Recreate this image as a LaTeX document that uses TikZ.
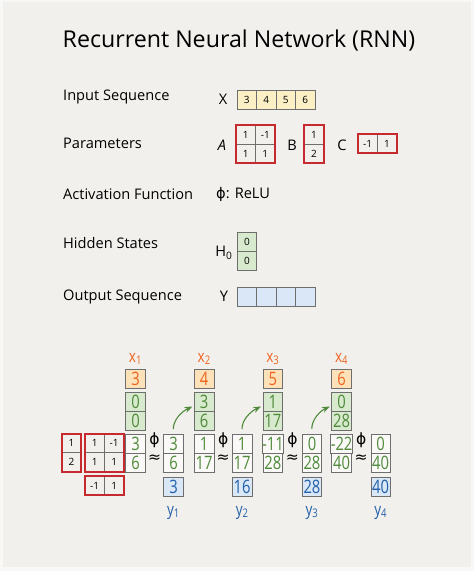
\documentclass[tikz,border=0pt]{standalone}
\usepackage{fontspec}
\setmainfont{Open Sans}
\newfontfamily\handfont[FakeStretch=0.8]{Open Sans}
\newfontfamily\symfont{DejaVu Sans}
\usetikzlibrary{arrows.meta,calc,fit,positioning}

\definecolor{paper}{HTML}{F2F0EC}
\definecolor{rim}{HTML}{F8F8F7}
\definecolor{gridgray}{HTML}{6E6E6E}
\definecolor{mred}{HTML}{C62A2F}
\definecolor{xfill}{HTML}{FBEFC6}
\definecolor{inpfill}{HTML}{FDE2B9}
\definecolor{inptext}{HTML}{EE6420}
\definecolor{hfill}{HTML}{D8EACD}
\definecolor{htext}{HTML}{4E8A3A}
\definecolor{yfill}{HTML}{D9E7F6}
\definecolor{ytext}{HTML}{2260AA}

\begin{document}
\begin{tikzpicture}[
  x=1pt,
  y=-1pt,
  font=\fontsize{14.6}{16}\selectfont,
  >=Stealth,
  cell/.style={draw=gridgray, line width=0.8pt, minimum width=19.5pt, minimum height=19pt,
    inner sep=0pt, outer sep=0pt, font=\fontsize{10}{12}\selectfont},
  xcell/.style={cell, fill=xfill},
  ycell/.style={cell, fill=yfill},
  hcell/.style={cell, fill=hfill},
  bigcell/.style={cell, font=\handfont\fontsize{18.5}{18}\selectfont},
  incell/.style={bigcell, fill=inpfill, text=inptext},
  stcell/.style={bigcell, fill=hfill, text=htext},
  zcell/.style={bigcell, fill=white!60!paper, text=htext},
  outcell/.style={bigcell, fill=yfill, text=ytext},
  redframe/.style={draw=mred, line width=1.7pt, inner sep=0pt},
  rowlabel/.style={anchor=west, inner sep=0pt},
  flow/.style={->, draw=htext, line width=1.1pt, shorten <=5pt}
]
  % paper
  \fill[rim] (0,0) rectangle (474,571);
  \fill[paper] (3,2) rectangle (471,567);

  \node (title) at (239,41) {\fontsize{23.2}{26}\selectfont Recurrent Neural Network (RNN)};

  \node[rowlabel] (lin) at (63,97) {Input Sequence};
  \node[rowlabel] (lpar) at (63,143) {Parameters};
  \node[rowlabel] (lact) at (63,194) {Activation Function};
  \node[rowlabel] (lhid) at (63,243) {Hidden States};
  \node[rowlabel] (lout) at (63,297) {Output Sequence};

  % input sequence X
  \node (X) at (223,99) {X};
  \node[xcell] (X1) at (246.8,100) {3};
  \node[xcell, right=0pt of X1] (X2) {4};
  \node[xcell, right=0pt of X2] (X3) {5};
  \node[xcell, right=0pt of X3] (X4) {6};

  % parameters A, B, C
  \node (A) at (222,145) {\itshape A};
  \node[cell] (A11) at (245.75,134.5) {1};
  \node[cell, right=0pt of A11] (A12) {-1};
  \node[cell, below=0pt of A11] (A21) {1};
  \node[cell, right=0pt of A21] (A22) {1};
  \node[redframe, fit=(A11)(A22)] (Abox) {};

  \node (B) at (292,145) {B};
  \node[cell] (B1) at (314,134.5) {1};
  \node[cell, below=0pt of B1] (B2) {2};
  \node[redframe, fit=(B1)(B2)] (Bbox) {};

  \node (C) at (342,145) {C};
  \node[cell] (C1) at (367.5,143.5) {-1};
  \node[cell, right=0pt of C1] (C2) {1};
  \node[redframe, fit=(C1)(C2)] (Cbox) {};

  \node[rowlabel] (act) at (216,194) {{\symfont ϕ}: ReLU};

  % hidden state H0
  \node (H) at (224,253) {H\textsubscript{0}};
  \node[hcell] (H1) at (247,241.8) {0};
  \node[hcell, below=0pt of H1] (H2) {0};

  % output sequence Y
  \node (Y) at (224,296) {Y};
  \node[ycell] (Y1) at (246.8,297) {};
  \node[ycell, right=0pt of Y1] (Y2) {};
  \node[ycell, right=0pt of Y2] (Y3) {};
  \node[ycell, right=0pt of Y3] (Y4) {};

  % worked example: B and A beside step 1, C below
  \node[cell] (b1) at (71.5,443.3) {1};
  \node[cell, below=0pt of b1] (b2) {2};
  \node[redframe, fit=(b1)(b2)] (bbox) {};
  \node[cell] (a11) at (94.7,443.3) {1};
  \node[cell, right=0pt of a11] (a12) {-1};
  \node[cell, below=0pt of a11] (a21) {1};
  \node[cell, right=0pt of a21] (a22) {1};
  \node[redframe, fit=(a11)(a22)] (abox) {};
  \node[cell] (c1) at (94.7,485.5) {-1};
  \node[cell, right=0pt of c1] (c2) {1};
  \node[redframe, fit=(c1)(c2)] (cbox) {};

  \foreach \idx/\xv/\ha/\hb/\za/\zb/\oa/\ob/\yv in
      {1/3/0/0/3/6/3/6/3, 2/4/3/6/1/17/1/17/16,
       3/5/1/17/-11/28/0/28/28, 4/6/0/28/-22/40/0/40/40} {
    \pgfmathsetmacro\cx{135.5+68.7*(\idx-1)}
    \node[text=inptext, font=\handfont\fontsize{17}{17}\selectfont] (xl\idx) at (\cx,359) {x\textsubscript{\idx}};
    \node[incell] (x\idx) at (\cx,379) {\xv};
    \node[stcell] (ha\idx) at (\cx,401.5) {\ha};
    \node[stcell, below=0pt of ha\idx] (hb\idx) {\hb};
    \node[zcell, below=4pt of hb\idx] (za\idx) {\za};
    \node[zcell, below=0pt of za\idx] (zb\idx) {\zb};
    \node[zcell, right=18.5pt of za\idx] (oa\idx) {\oa};
    \node[zcell, below=0pt of oa\idx] (ob\idx) {\ob};
    \node[outcell, below=5pt of ob\idx] (y\idx) {\yv};
    \node[text=ytext, font=\handfont\fontsize{17}{17}\selectfont] (yl\idx) at ($(y\idx)+(0,26)$) {y\textsubscript{\idx}};
    \node[font=\symfont\fontsize{15.5}{15}\selectfont] (phi\idx) at ($(za\idx)!0.5!(oa\idx)+(0,-3)$) {ϕ};
    \node[font=\symfont\fontsize{15.5}{15}\selectfont] (apx\idx) at ($(zb\idx)!0.5!(ob\idx)+(0,-4)$) {≈};
  }

  % hidden state carried to the next step
  \foreach \a/\b in {1/2, 2/3, 3/4}
    \draw[flow] (oa\a.north) to[out=92, in=205] ([xshift=-2pt, yshift=-5pt]ha\b.west);
\end{tikzpicture}
\end{document}
